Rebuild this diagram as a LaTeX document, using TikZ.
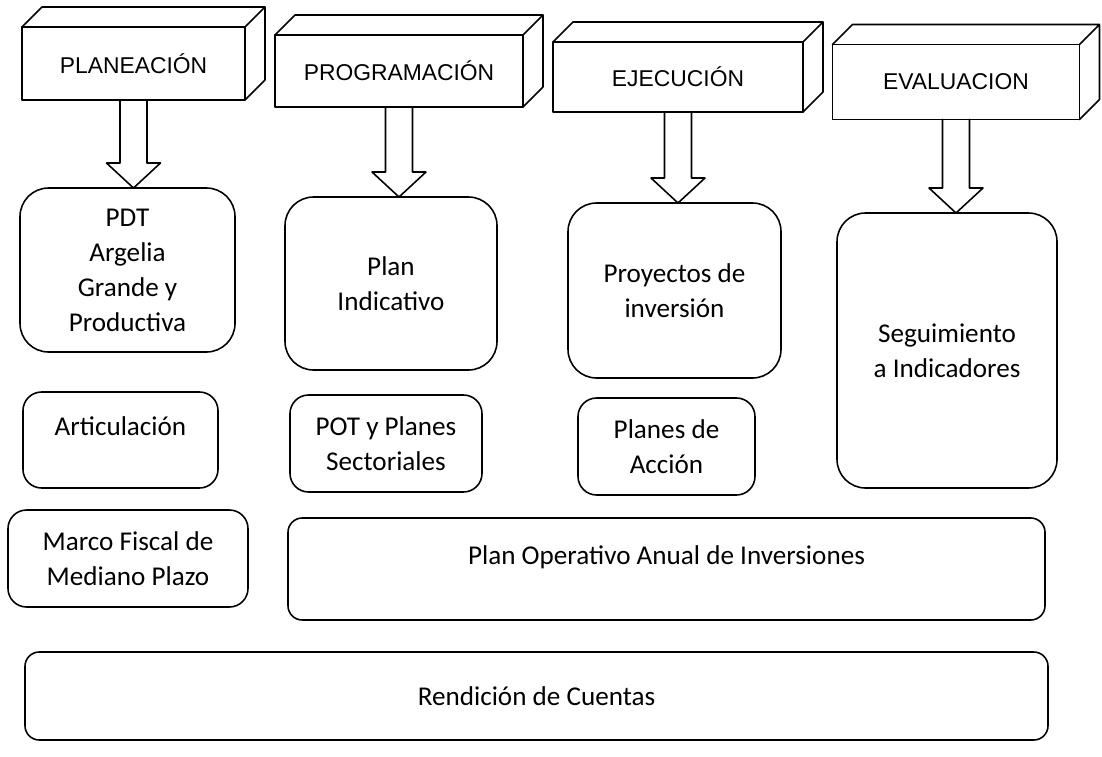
\documentclass[tikz,border=0pt]{standalone}
\usepackage{fontspec}
\setmainfont{Carlito}
\newfontfamily\headfont{Liberation Sans}
\usetikzlibrary{calc}
% top and side faces of a header block
\newcommand{\cuboid}[1]{%
  \draw (#1.north west) -- ++(20,-20) -| ($(#1.south east)+(20,-20)$) -- (#1.south east)
        (#1.north east) -- ++(20,-20);}
% open block arrow from a header down to its box
\newcommand{\hollowarrow}[2]{%
  \coordinate (tip#1) at (#1.south |- #2.north);
  \draw ($(#1.south)+(-13.5,0)$) -- ($(tip#1)+(-13.5,-25)$) -- ($(tip#1)+(-27,-25)$) -- (tip#1)
        -- ($(tip#1)+(27,-25)$) -- ($(tip#1)+(13.5,-25)$) -- ($(#1.south)+(13.5,0)$);}
\begin{document}
\begin{tikzpicture}[x=0.7pt, y=-0.7pt, line width=1.1pt, line join=round, line cap=round,
    head/.style={draw, inner sep=0pt, outer sep=0pt, font=\headfont\fontsize{16}{19}\selectfont},
    rbox/.style={draw, rounded corners=20pt, inner sep=0pt, outer sep=0pt, align=center,
                 font=\fontsize{19}{24.5}\selectfont},
    sbox/.style={rbox, rounded corners=13pt},
    wbox/.style={rbox, rounded corners=10pt},
    uptext/.style={text height=14pt, text depth=21pt}]
  \useasboundingbox (0,0) rectangle (1102,756);

  \node[head, minimum width=156.1pt, minimum height=51.1pt] (plan) at (133.5,63.5) {PLANEACIÓN};
  \node[head, minimum width=173.6pt, minimum height=50.4pt] (prog) at (399,71) {PROGRAMACIÓN};
  \node[head, minimum width=175pt, minimum height=49pt] (ejec) at (678,77) {EJECUCIÓN};
  \node[head, minimum width=172.9pt, minimum height=52.5pt] (eval) at (956,82) {EVALUACION};
  \cuboid{plan} \cuboid{prog} \cuboid{ejec} \cuboid{eval}

  \node[rbox, minimum width=150.5pt, minimum height=114.8pt] (pdt) at (127.5,270) {PDT\\Argelia\\Grande y\\Productiva};
  \node[rbox, minimum width=148.4pt, minimum height=121.1pt] (indic) at (391,283.5) {Plan\\Indicativo};
  \node[rbox, minimum width=149.1pt, minimum height=122.5pt] (proy) at (674.5,290.5) {Proyectos de\\inversión};
  \node[rbox, minimum width=154pt, minimum height=192.5pt] (segui) at (947,350.5) {Seguimiento\\a Indicadores};

  \node[sbox, uptext, minimum width=136.5pt, minimum height=67.2pt] (artic) at (120.5,440) {Articulación};
  \node[sbox, minimum width=134.4pt, minimum height=67.9pt] (pot) at (386,443.5) {POT y Planes\\Sectoriales};
  \node[sbox, minimum width=123.9pt, minimum height=67.9pt] (acc) at (666.5,446.5) {Planes de\\Acción};
  \node[sbox, minimum width=168pt, minimum height=67.9pt] (marco) at (128,558.5) {Marco Fiscal de\\Mediano Plazo};
  \node[wbox, uptext, minimum width=529.9pt, minimum height=71.4pt] (poai) at (666.5,569) {Plan Operativo Anual de Inversiones};
  \node[wbox, minimum width=716.1pt, minimum height=61.6pt] (rend) at (536.5,696) {Rendición de Cuentas};

  \hollowarrow{plan}{pdt}
  \hollowarrow{prog}{indic}
  \hollowarrow{ejec}{proy}
  \hollowarrow{eval}{segui}
\end{tikzpicture}
\end{document}
